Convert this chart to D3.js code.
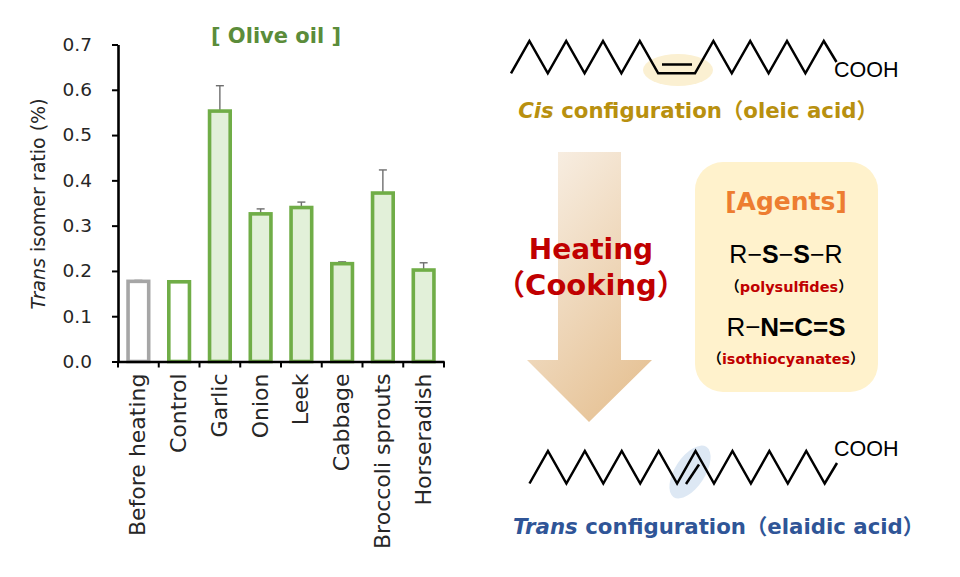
<!DOCTYPE html>
<html><head><meta charset="utf-8">
<script src="https://cdn.jsdelivr.net/npm/d3@7/dist/d3.min.js"></script>
<style>html,body{margin:0;padding:0;background:#fff}svg{display:block}text{font-family:"DejaVu Sans","Noto Sans CJK JP",sans-serif}</style>
</head><body><svg id="c" width="960" height="577"></svg>
<script>
const categories = ["Before heating","Control","Garlic","Onion","Leek","Cabbage","Broccoli sprouts","Horseradish"];
const values = [0.177,0.176,0.553,0.326,0.340,0.216,0.372,0.202];
const errorTops = [0.179,0.178,0.609,0.337,0.352,0.220,0.423,0.218];
const yTicks = [0,0.1,0.2,0.3,0.4,0.5,0.6,0.7];
// chain heights as 1 (up) / 0 (down), per carbon
const cisLevels = [0,1,0,1,0,1,0,1,0,0,1,0,1,0,1,0,1];
const cisSteps  = [0,1,2,3,4,5,6,7,8,10,11,12,13,14,15,16,17];
const transLevels = [0,1,0,1,0,1,0,1,0,1,0,1,0,1,0,1,0];

const svg = d3.select("#c");
const green="#70ad47", grey="#a6a6a6";

// ---- illustration backgrounds
const defs = svg.append("defs");
const g = defs.append("linearGradient").attr("id","arrowGrad").attr("x1","0.15").attr("y1","0").attr("x2","0.7").attr("y2","1");
g.append("stop").attr("offset","0").attr("stop-color","#f8efe4");
g.append("stop").attr("offset","1").attr("stop-color","#e6c295");
svg.append("path").attr("d","M558,152H621V360H652L589,422L527,360H558Z").attr("fill","url(#arrowGrad)");
svg.append("rect").attr("x",695).attr("y",162).attr("width",183).attr("height",230).attr("rx",28).attr("fill","#fff2cc");
svg.append("ellipse").attr("cx",678).attr("cy",70).attr("rx",35).attr("ry",16).attr("fill","#fbf0d2");
svg.append("ellipse").attr("transform","translate(690,472) rotate(33)").attr("rx",15).attr("ry",30).attr("fill","#dde8f4");

// ---- chart
const x = d3.scaleBand().domain(categories).range([118,444]).paddingInner(0.41).paddingOuter(0.205);
const y = d3.scaleLinear().domain([0,0.7]).range([361.5,44.5]);

const bars = svg.append("g").selectAll("g").data(categories).join("g");
bars.append("line")
  .attr("x1",d=>x(d)+x.bandwidth()/2).attr("x2",d=>x(d)+x.bandwidth()/2)
  .attr("y1",(d,i)=>y(values[i])).attr("y2",(d,i)=>y(errorTops[i]))
  .attr("stroke","#6f6f6f").attr("stroke-width",1.4);
bars.append("line")
  .attr("x1",d=>x(d)+x.bandwidth()/2-4).attr("x2",d=>x(d)+x.bandwidth()/2+4)
  .attr("y1",(d,i)=>y(errorTops[i])).attr("y2",(d,i)=>y(errorTops[i]))
  .attr("stroke","#6f6f6f").attr("stroke-width",1.4);
bars.append("rect")
  .attr("x",d=>x(d)+1.7).attr("width",x.bandwidth()-3.4)
  .attr("y",(d,i)=>y(values[i])).attr("height",(d,i)=>y(0)-y(values[i]))
  .attr("fill",(d,i)=>i<2?"#fff":"#e2f0d9")
  .attr("stroke",(d,i)=>i===0?grey:green).attr("stroke-width",3.6);

const yAxis = svg.append("g").attr("transform","translate(118,0)")
  .call(d3.axisLeft(y).tickValues(yTicks).tickFormat(d3.format(".1f")).tickSize(6).tickPadding(20).tickSizeOuter(0));
yAxis.selectAll("line").attr("stroke","#000").attr("stroke-width",2);
yAxis.select(".domain").attr("stroke","#000").attr("stroke-width",2.6);
yAxis.selectAll("text").attr("fill","#262626").style("font-size","18.5px").style("font-family",'"DejaVu Sans"');

const xAxis = svg.append("g").attr("transform","translate(0,361.5)")
  .call(d3.axisBottom(x).tickSize(0).tickPadding(0));
xAxis.select(".domain").attr("stroke","#000").attr("stroke-width",2.6);
xAxis.selectAll("line").remove();
const edges = d3.range(categories.length+1).map(i=>x.range()[0]+i*x.step());
xAxis.selectAll("line.sep").data(edges).join("line").attr("class","sep")
  .attr("x1",d=>d).attr("x2",d=>d).attr("y1",0).attr("y2",6).attr("stroke","#000").attr("stroke-width",2);
xAxis.selectAll(".tick text")
  .attr("transform","translate(-1,12) rotate(-90)").attr("x",0).attr("y",0).attr("dy","0.36em")
  .attr("text-anchor","end").attr("fill","#262626").style("font-size","22px").style("font-family",'"DejaVu Sans"');

svg.append("text").attr("transform","translate(45,204) rotate(-90)").attr("text-anchor","middle")
  .attr("fill","#262626").style("font-size","19px")
  .call(t=>{t.append("tspan").attr("font-style","italic").text("Trans");t.append("tspan").text(" isomer ratio (%)");});

svg.append("text").attr("x",276).attr("y",43).attr("text-anchor","middle").attr("font-weight","bold")
  .attr("fill","#5b8c3a").style("font-size","21px").text("[ Olive oil ]");

// ---- molecules
const line = d3.line();
function chain(steps, levels, x0, dx, yLow, yHigh){
  const sx=d3.scaleLinear().domain([0,1]).range([x0,x0+dx]);
  const sy=d3.scaleLinear().domain([0,1]).range([yLow,yHigh]);
  return steps.map((s,i)=>[sx(s),sy(levels[i])]);
}
const cisPts = chain(cisSteps,cisLevels,511,18.4,73.3,41).concat([[836.5,62]]);
svg.append("path").attr("d",line(cisPts)).attr("fill","none").attr("stroke","#000").attr("stroke-width",2.5);
svg.append("line").attr("x1",662).attr("x2",692).attr("y1",64.5).attr("y2",64.5).attr("stroke","#000").attr("stroke-width",2.5);

const transPts = chain(d3.range(17),transLevels,529.5,18.45,483.5,451).concat([[837,463]]);
svg.append("path").attr("d",line(transPts)).attr("fill","none").attr("stroke","#000").attr("stroke-width",2.5);
svg.append("line").attr("x1",686).attr("x2",699).attr("y1",484).attr("y2",464.5).attr("stroke","#000").attr("stroke-width",2.5);

function label(x,y,size,parts,anchor="middle"){
  const t=svg.append("text").attr("x",x).attr("y",y).attr("text-anchor",anchor).style("font-size",size+"px");
  parts.forEach(p=>{const s=t.append("tspan").text(p.t).attr("fill",p.c||"#000");
    if(p.b)s.attr("font-weight","bold"); if(p.i)s.attr("font-style","italic"); if(p.f)s.style("font-family",p.f);});
  return t;
}
const ar='"Liberation Sans"';
label(834,77,21.5,[{t:"COOH",f:ar}],"start");
label(834,456,21.5,[{t:"COOH",f:ar}],"start");
const gold="#b8900f", blue="#2f5597", red="#c00000";
label(698,118,21.3,[{t:"Cis",b:1,i:1,c:gold},{t:" configuration（oleic acid）",b:1,c:gold}]);
label(718.5,534,21.3,[{t:"Trans",b:1,i:1,c:blue},{t:" configuration（elaidic acid）",b:1,c:blue}]);
label(591,259,28,[{t:"Heating",b:1,c:red}]);
label(591,295,29,[{t:"（Cooking）",b:1,c:red}]);
label(786,210,25,[{t:"[Agents]",b:1,c:"#ed7d31"}]);
label(786,263,25,[{t:"R",f:ar},{t:"−",f:ar},{t:"S",b:1,f:ar},{t:"−",f:ar},{t:"S",b:1,f:ar},{t:"−",f:ar},{t:"R",f:ar}]);
label(789,292,14.5,[{t:"（",b:1},{t:"polysulfides",b:1,c:red},{t:"）",b:1}]);
label(786,336,26,[{t:"R",f:ar},{t:"−",f:ar},{t:"N=C=S",b:1,f:ar}]);
label(786,364,14.4,[{t:"（",b:1},{t:"isothiocyanates",b:1,c:red},{t:"）",b:1}]);
</script></body></html>
